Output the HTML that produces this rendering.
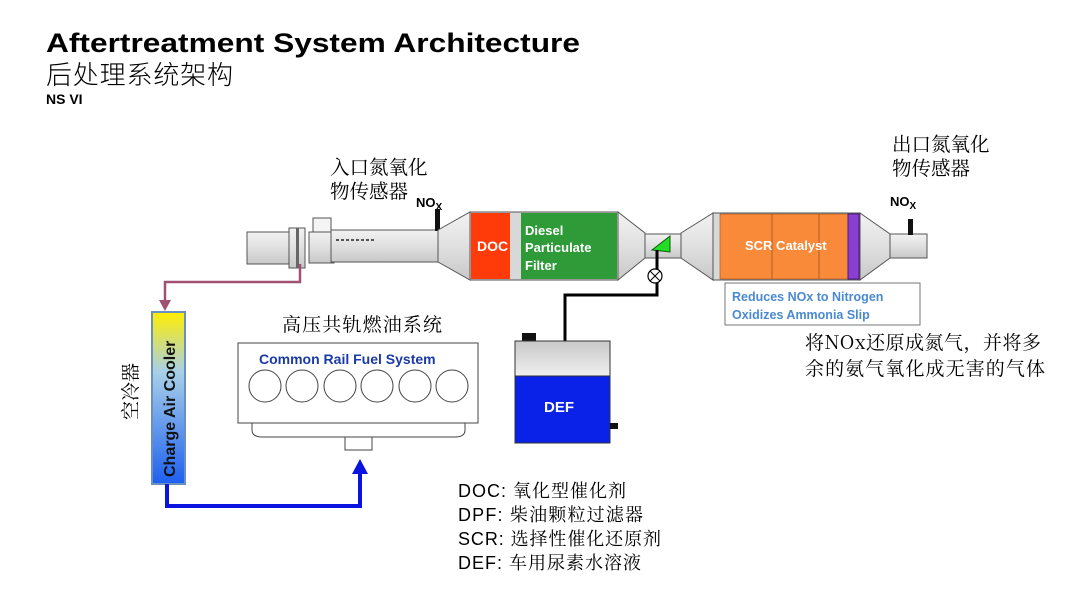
<!DOCTYPE html>
<html><head><meta charset="utf-8"><style>
html,body{margin:0;padding:0;background:#fff;}
svg{display:block;}
.cn{font-family:"Noto Serif CJK SC","Liberation Serif",serif;}
.b{font-family:"Liberation Sans",sans-serif;font-weight:bold;}
</style></head><body>
<svg width="1080" height="608" viewBox="0 0 1080 608" xmlns="http://www.w3.org/2000/svg">
<defs>
<linearGradient id="pipe" x1="0" y1="0" x2="0" y2="1"><stop offset="0" stop-color="#f2f2f2"/><stop offset="0.5" stop-color="#e0e0e0"/><stop offset="1" stop-color="#c8c8c8"/></linearGradient>
<linearGradient id="cac" x1="0" y1="0" x2="0" y2="1"><stop offset="0" stop-color="#ffee00"/><stop offset="0.35" stop-color="#a8d0e8"/><stop offset="1" stop-color="#1d5ff0"/></linearGradient>
<linearGradient id="tank" x1="0" y1="0" x2="0" y2="1"><stop offset="0" stop-color="#c8c8c8"/><stop offset="1" stop-color="#f0f0f0"/></linearGradient>
</defs>
<text x="46" y="52" class="b" font-size="27" textLength="534" lengthAdjust="spacingAndGlyphs">Aftertreatment System Architecture</text>
<text x="46" y="84" font-size="26" font-family="Noto Sans CJK SC" font-weight="300" textLength="187">后处理系统架构</text>
<text x="46" y="104" class="b" font-size="14">NS VI</text>

<text x="330" y="174" class="cn" font-size="19.5">入口氮氧化</text>
<text x="330" y="198" class="cn" font-size="19.5">物传感器</text>
<text x="892" y="151" class="cn" font-size="19.5">出口氮氧化</text>
<text x="892" y="175" class="cn" font-size="19.5">物传感器</text>
<text x="416" y="207" class="b" font-size="13">NO<tspan font-size="10" dy="3">X</tspan></text>
<text x="890" y="206" class="b" font-size="13">NO<tspan font-size="10" dy="3">X</tspan></text>

<rect x="247" y="232" width="50" height="32" fill="url(#pipe)" stroke="#555"/>
<rect x="289" y="228" width="16" height="40" fill="url(#pipe)" stroke="#555"/>
<rect x="296" y="228" width="3" height="40" fill="#666"/>
<rect x="313" y="218" width="18" height="14" fill="#f4f4f4" stroke="#555"/>
<rect x="309" y="232" width="25" height="31" fill="url(#pipe)" stroke="#555"/>
<rect x="331" y="230" width="107" height="32" fill="url(#pipe)" stroke="#555"/>
<line x1="336" y1="240" x2="375" y2="240" stroke="#555" stroke-width="2" stroke-dasharray="3,2"/>
<rect x="435" y="209" width="5" height="22" fill="#111"/>
<polygon points="438,230 470,212 470,280 438,262" fill="url(#pipe)" stroke="#555"/>
<rect x="470" y="212" width="148" height="68" fill="#d8d8d8" stroke="#555"/>
<rect x="471" y="213" width="39" height="66" fill="#ff3b0a"/>
<rect x="521" y="213" width="96" height="66" fill="#2e9a38"/>
<text x="477" y="251" class="b" font-size="14" fill="#fff">DOC</text>
<text x="525" y="235" class="b" font-size="13" fill="#fff">Diesel</text>
<text x="525" y="252" class="b" font-size="13" fill="#fff">Particulate</text>
<text x="525" y="270" class="b" font-size="13" fill="#fff">Filter</text>
<polygon points="618,212 645,233 645,258 618,280" fill="url(#pipe)" stroke="#555"/>
<rect x="645" y="234" width="36" height="24" fill="url(#pipe)" stroke="#555"/>
<polygon points="652,250 670,236 670,252" fill="#22dd22" stroke="#115511"/>
<polygon points="681,233 713,213 713,280 681,258" fill="url(#pipe)" stroke="#555"/>
<rect x="713" y="213" width="147" height="67" fill="#d8d8d8" stroke="#555"/>
<rect x="720" y="214" width="130" height="65" fill="#f98a3a" stroke="#a05020" stroke-width="0.6"/>
<line x1="772" y1="214" x2="772" y2="279" stroke="#a05020" stroke-width="0.8"/>
<line x1="819" y1="214" x2="819" y2="279" stroke="#a05020" stroke-width="0.8"/>
<rect x="848" y="214" width="11" height="65" fill="#8a3fd0" stroke="#4a1a80"/>
<text x="745" y="250" class="b" font-size="13" fill="#fff">SCR Catalyst</text>
<polygon points="860,213 890,234 890,258 860,280" fill="url(#pipe)" stroke="#555"/>
<rect x="890" y="234" width="37" height="24" fill="url(#pipe)" stroke="#555"/>
<rect x="908" y="219" width="5" height="16" fill="#111"/>

<rect x="725" y="283" width="195" height="42" fill="#fff" stroke="#777"/>
<text x="732" y="301" class="b" font-size="12.5" fill="#4a8ad0">Reduces NOx to Nitrogen</text>
<text x="732" y="319" class="b" font-size="12.5" fill="#4a8ad0">Oxidizes Ammonia Slip</text>
<text x="805" y="349" class="cn" font-size="19" textLength="236">将NOx还原成氮气，并将多</text>
<text x="805" y="375" class="cn" font-size="19" textLength="240">余的氨气氧化成无害的气体</text>

<polyline points="657,250 657,295 565,295 565,341" fill="none" stroke="#000" stroke-width="3"/>
<circle cx="655" cy="276" r="7" fill="#fff" stroke="#000" stroke-width="1.2"/>
<line x1="650" y1="271" x2="660" y2="281" stroke="#000"/><line x1="660" y1="271" x2="650" y2="281" stroke="#000"/>
<rect x="522" y="333" width="14" height="8" fill="#111"/>
<rect x="515" y="341" width="95" height="35" fill="url(#tank)" stroke="#333"/>
<rect x="515" y="376" width="95" height="67" fill="#0a22e8" stroke="#333"/>
<rect x="610" y="423" width="8" height="6" fill="#111"/>
<text x="544" y="412" class="b" font-size="15" fill="#fff">DEF</text>

<polyline points="300,264 300,282 165,282 165,302" fill="none" stroke="#a05070" stroke-width="2.5"/>
<polygon points="159,300 171,300 165,311" fill="#a05070"/>
<rect x="152" y="312" width="33" height="172" fill="url(#cac)" stroke="#6a90c0" stroke-width="2"/>
<text transform="translate(175,477) rotate(-90)" class="b" font-size="16" fill="#111">Charge Air Cooler</text>
<text transform="translate(137,420) rotate(-90)" class="cn" font-size="19">空冷器</text>
<polyline points="167,484 167,506 360,506 360,472" fill="none" stroke="#0a14e0" stroke-width="4"/>
<polygon points="352,474 368,474 360,459" fill="#0a14e0"/>

<text x="282" y="331" class="cn" font-size="19" textLength="160">高压共轨燃油系统</text>
<path d="M252,423 L252,430 Q252,437 262,437 L455,437 Q465,437 465,430 L465,423" fill="#fff" stroke="#444"/>
<rect x="238" y="343" width="240" height="80" fill="#fff" stroke="#444"/>
<rect x="345" y="437" width="27" height="13" fill="#fff" stroke="#444"/>
<text x="259" y="364" class="b" font-size="14" fill="#1a3aa8">Common Rail Fuel System</text>
<g fill="#fff" stroke="#444">
<circle cx="265" cy="386" r="16"/><circle cx="302" cy="386" r="16"/><circle cx="340" cy="386" r="16"/>
<circle cx="377" cy="386" r="16"/><circle cx="415" cy="386" r="16"/><circle cx="452" cy="386" r="16"/>
</g>

<g font-size="18" class="cn">
<text x="458" y="497" textLength="168"><tspan font-family="Liberation Sans">DOC: </tspan>氧化型催化剂</text>
<text x="458" y="521" textLength="185"><tspan font-family="Liberation Sans">DPF: </tspan>柴油颗粒过滤器</text>
<text x="458" y="545" textLength="203"><tspan font-family="Liberation Sans">SCR: </tspan>选择性催化还原剂</text>
<text x="458" y="569" textLength="183"><tspan font-family="Liberation Sans">DEF: </tspan>车用尿素水溶液</text>
</g>
</svg>
</body></html>
